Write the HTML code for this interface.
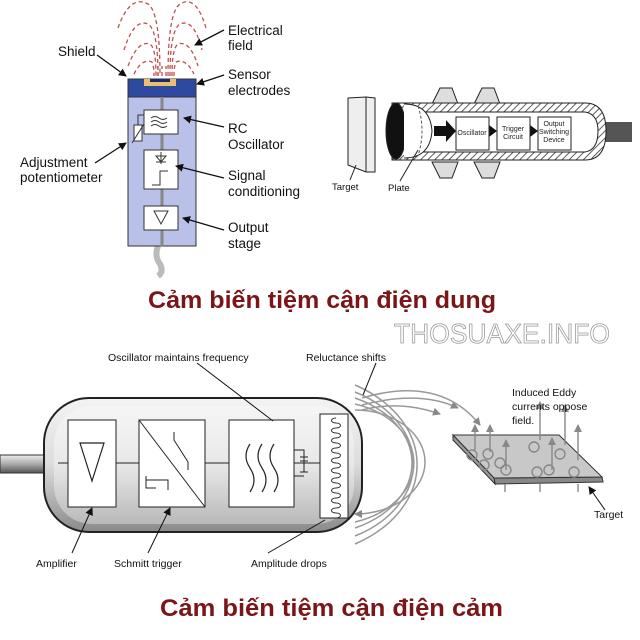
<!DOCTYPE html>
<html><head><meta charset="utf-8"><style>
html,body{margin:0;padding:0;background:#fff;}
svg{display:block;}
text{font-family:"Liberation Sans",sans-serif;}
</style></head><body>
<svg width="640" height="640" viewBox="0 0 640 640" xmlns="http://www.w3.org/2000/svg">
<defs>
<linearGradient id="bodyg" x1="0" y1="0" x2="0" y2="1">
<stop offset="0" stop-color="#f4f4f4"/><stop offset="0.5" stop-color="#dcdcdc"/><stop offset="1" stop-color="#8a8a8a"/>
</linearGradient>
<linearGradient id="cab" x1="0" y1="0" x2="0" y2="1">
<stop offset="0" stop-color="#eee"/><stop offset="0.5" stop-color="#aaa"/><stop offset="1" stop-color="#555"/>
</linearGradient>
<pattern id="hatch" width="5" height="5" patternUnits="userSpaceOnUse" patternTransform="rotate(45)">
<rect width="5" height="5" fill="#fff"/><line x1="0" y1="0" x2="0" y2="5" stroke="#333" stroke-width="1.6"/>
</pattern>
<marker id="ar" markerWidth="8" markerHeight="8" refX="7" refY="4" orient="auto" markerUnits="userSpaceOnUse"><path d="M0,0 L8,4 L0,8 z" fill="#111"/></marker>
<marker id="ag" markerWidth="8" markerHeight="8" refX="7" refY="4" orient="auto" markerUnits="userSpaceOnUse"><path d="M0,0 L8,4 L0,8 z" fill="#888"/></marker>
</defs>

<!-- ===== Top-left capacitive sensor ===== -->
<g fill="none" stroke="#c0504d" stroke-width="1.3" stroke-dasharray="4,3">
<path d="M118,28 Q130,-6 148,4 Q160,12 160,76"/>
<path d="M168,76 Q168,12 180,4 Q196,-6 206,28"/>
<path d="M124,50 Q134,18 148,24 Q158,30 158,76"/>
<path d="M170,76 Q170,30 180,24 Q194,18 202,50"/>
<path d="M128,66 Q138,40 150,44 Q156,48 156,76"/>
<path d="M172,76 Q172,48 178,44 Q190,40 198,66"/>
<path d="M134,74 Q142,58 152,62 Q154,66 154,76"/>
<path d="M174,76 Q174,66 176,62 Q186,58 194,74"/>
<path d="M158,76 v-10 M162,76 v-10 M166,76 v-10"/>
</g>
<path d="M158,246 q-4,10 2,18 q4,8 -2,12" stroke="#bbb" stroke-width="6" fill="none"/>
<rect x="128" y="97" width="68" height="149" fill="#b9c1e9" stroke="#333" stroke-width="1"/>
<rect x="128" y="79" width="68" height="18" fill="#2e4aa0" stroke="#333" stroke-width="1"/>
<rect x="144" y="79" width="32" height="7" fill="#e8c070"/>
<rect x="150" y="79" width="20" height="3" fill="#1b2a70"/>
<line x1="162" y1="97" x2="162" y2="246" stroke="#888" stroke-width="3"/>
<rect x="144" y="110" width="34" height="24" fill="#fff" stroke="#333"/>
<path d="M151,118 q4,-3 8,0 t8,0 M151,122 q4,-3 8,0 t8,0 M151,126 q4,-3 8,0 t8,0" stroke="#333" fill="none"/>
<rect x="144" y="150" width="34" height="39" fill="#fff" stroke="#333"/>
<path d="M161,152 v12 M156,156 h10 l-5,6 z M156,162 h10 M152,185 h8 v-14 h8" stroke="#333" fill="none"/>
<rect x="144" y="206" width="34" height="24" fill="#fff" stroke="#333"/>
<path d="M154,211 h14 l-7,13 z" stroke="#333" fill="none"/>
<path d="M144,115 h-6 v10" stroke="#333" fill="none"/>
<rect x="134" y="125" width="8" height="16" fill="#fff" stroke="#333"/>
<line x1="132" y1="143" x2="144" y2="124" stroke="#333"/>
<g stroke="#111" stroke-width="1.3" fill="none">
<line x1="97" y1="55" x2="126" y2="76" marker-end="url(#ar)"/>
<line x1="224" y1="30" x2="195" y2="45" marker-end="url(#ar)"/>
<line x1="224" y1="75" x2="197" y2="84" marker-end="url(#ar)"/>
<line x1="224" y1="127" x2="184" y2="118" marker-end="url(#ar)"/>
<line x1="95" y1="163" x2="126" y2="143" marker-end="url(#ar)"/>
<line x1="224" y1="178" x2="176" y2="166" marker-end="url(#ar)"/>
<line x1="224" y1="230" x2="183" y2="218" marker-end="url(#ar)"/>
</g>
<g font-size="13.5" fill="#111">
<text x="228" y="35">Electrical</text><text x="228" y="50">field</text>
<text x="58" y="56">Shield</text>
<text x="228" y="79">Sensor</text><text x="228" y="95">electrodes</text>
<text x="228" y="133">RC</text><text x="228" y="149">Oscillator</text>
<text x="20" y="167">Adjustment</text><text x="20" y="182">potentiometer</text>
<text x="228" y="180">Signal</text><text x="228" y="196">conditioning</text>
<text x="228" y="232">Output</text><text x="228" y="248">stage</text>
</g>

<!-- ===== Top-right sensor ===== -->
<path d="M348,98 L366,97 L375,98 L375,172 L366,172 L348,165 z" fill="#eee" stroke="#222"/>
<line x1="366" y1="97" x2="366" y2="172" stroke="#222"/>
<rect x="600" y="122" width="32" height="20" fill="#555"/>
<path d="M432,104 L440,88 L452,88 L458,104 z M474,104 L482,88 L494,88 L500,104 z" fill="#ddd" stroke="#222"/>
<path d="M432,162 L440,178 L452,178 L458,162 z M474,162 L482,178 L494,178 L500,162 z" fill="#ddd" stroke="#222"/>
<path d="M392,103 L585,103 Q606,103 606,131 Q606,160 585,160 L392,160 z" fill="url(#hatch)" stroke="#222"/>
<path d="M418,112 L585,112 Q598,114 598,131 Q598,150 585,152 L418,152 z" fill="#fff" stroke="#222"/>
<ellipse cx="396" cy="131" rx="10" ry="28" fill="#111" stroke="#222"/>
<path d="M404,104 Q430,104 432,131 Q430,158 404,158" fill="#fff" stroke="#222"/>
<path d="M418,106 Q426,130 418,156" stroke="#555" stroke-dasharray="3,2" fill="none"/>
<path d="M434,126 h12 v-6 l10,11 l-10,11 v-6 h-12 z" fill="#111"/>
<path d="M489,125 l8,6 l-8,6 z M530,125 l8,6 l-8,6 z" fill="#111"/>
<rect x="456" y="117" width="33" height="33" fill="#fff" stroke="#222"/>
<rect x="497" y="117" width="33" height="33" fill="#fff" stroke="#222"/>
<rect x="538" y="117" width="33" height="33" fill="#fff" stroke="#222"/>
<g font-size="7" fill="#222" text-anchor="middle">
<text x="472" y="135">Oscillator</text>
<text x="513" y="131">Trigger</text><text x="513" y="139">Circuit</text>
<text x="554" y="126">Output</text><text x="554" y="134">Switching</text><text x="554" y="142">Device</text>
</g>
<line x1="350" y1="180" x2="356" y2="165" stroke="#222"/>
<line x1="400" y1="181" x2="418" y2="150" stroke="#222"/>
<text x="332" y="190" font-size="9.5" fill="#111">Target</text>
<text x="388" y="191" font-size="9.5" fill="#111">Plate</text>

<!-- Title 1 -->
<text x="148" y="308" font-size="21" font-weight="bold" fill="#7a1518" textLength="348" lengthAdjust="spacingAndGlyphs" style="font-size:24px">Cảm biến tiệm cận điện dung</text>
<text x="394" y="343" font-family="Liberation Serif,serif" font-size="28" fill="#fff" stroke="#999" stroke-width="0.8" textLength="216" lengthAdjust="spacingAndGlyphs">THOSUAXE.INFO</text>

<!-- ===== Bottom inductive sensor ===== -->
<rect x="0" y="455" width="48" height="18" fill="url(#cab)" stroke="#333"/>
<g fill="none" stroke="#999" stroke-width="1.5">
<path d="M355,410 A70,52 0 0 1 355,514" marker-end="url(#ag)"/>
<path d="M355,404 A85,62 0 0 1 355,522"/>
<path d="M355,398 A100,72 0 0 1 355,528"/>
<path d="M355,392 A112,82 0 0 1 355,536"/>
<path d="M355,385 A125,92 0 0 1 355,544"/>
<path d="M362,410 Q400,400 440,414" marker-end="url(#ag)"/>
<path d="M362,405 Q420,390 458,408" marker-end="url(#ag)"/>
<path d="M362,398 Q440,375 480,425" marker-end="url(#ag)"/>
</g>
<rect x="44" y="398" width="318" height="134" rx="45" fill="url(#bodyg)" stroke="#222" stroke-width="2"/>
<rect x="54" y="406" width="300" height="118" rx="38" fill="#fff" opacity="0.35"/>
<line x1="58" y1="463" x2="320" y2="463" stroke="#222"/>
<rect x="68" y="420" width="48" height="87" fill="#fff" stroke="#222"/>
<path d="M80,443 h24 l-12,38 z" fill="#fff" stroke="#222" stroke-width="1.2"/>
<rect x="139" y="420" width="66" height="87" fill="#fff" stroke="#222"/>
<path d="M139,420 L205,507 M174,432 v8 l14,22 v8 M146,476 v12 h10 M146,480 h22 v10" fill="none" stroke="#222"/>
<rect x="229" y="420" width="65" height="87" fill="#fff" stroke="#222"/>
<path d="M250,444 q-8,12 0,24 t0,24 M262,444 q-8,12 0,24 t0,24 M274,444 q-8,12 0,24 t0,24" fill="none" stroke="#222" stroke-width="1.2"/>
<path d="M294,450 h10 v22 M294,476 h10 M300,457 h8 M300,461 h8 M300,472 h8" fill="none" stroke="#222"/>
<rect x="320" y="414" width="28" height="104" fill="#fff" stroke="#222"/>
<g fill="none" stroke="#333" stroke-width="1">
<path d="M336,418 c-6,0 -6,5 0,5 c6,0 6,5 0,5 c-6,0 -6,5 0,5 c6,0 6,5 0,5 c-6,0 -6,5 0,5 c6,0 6,5 0,5 c-6,0 -6,5 0,5 c6,0 6,5 0,5 c-6,0 -6,5 0,5 c6,0 6,5 0,5 c-6,0 -6,5 0,5 c6,0 6,5 0,5 c-6,0 -6,5 0,5 c6,0 6,5 0,5 c-6,0 -6,5 0,5 c6,0 6,5 0,5 c-6,0 -6,5 0,5 c6,0 6,5 0,5 c-6,0 -6,5 0,5 c6,0 6,5 0,5"/>
</g>
<!-- target -->
<path d="M494,478 L602,477 L603,482 L495,484 z" fill="#888" stroke="#333"/>
<path d="M453,435 L559,435 L602,477 L494,478 z" fill="#c8c8c8" stroke="#333"/>
<path d="M453,435 L453,440 L495,484 L494,478 z" fill="#999" stroke="#333"/>
<g fill="none" stroke="#888" stroke-width="1.4">
<line x1="475" y1="450" x2="475" y2="425" marker-end="url(#ag)"/>
<line x1="490" y1="452" x2="490" y2="425" marker-end="url(#ag)"/>
<line x1="540" y1="440" x2="540" y2="402" marker-end="url(#ag)"/>
<line x1="565" y1="445" x2="565" y2="405" marker-end="url(#ag)"/>
<line x1="578" y1="460" x2="578" y2="425" marker-end="url(#ag)"/>
<line x1="552" y1="470" x2="552" y2="438" marker-end="url(#ag)"/>
<line x1="506" y1="470" x2="506" y2="440" marker-end="url(#ag)"/>
<circle cx="472" cy="455" r="5"/><circle cx="488" cy="454" r="5"/><circle cx="500" cy="463" r="5"/>
<circle cx="506" cy="470" r="5"/><circle cx="534" cy="447" r="5"/><circle cx="560" cy="454" r="5"/>
<circle cx="537" cy="472" r="5"/><circle cx="549" cy="470" r="5"/><circle cx="574" cy="472" r="5"/><circle cx="484" cy="465" r="5"/>
<line x1="505" y1="484" x2="505" y2="492"/><line x1="540" y1="484" x2="540" y2="492"/><line x1="578" y1="484" x2="578" y2="492"/>
</g>
<g stroke="#111" stroke-width="1" fill="none">
<line x1="197" y1="363" x2="273" y2="421"/>
<line x1="376" y1="363" x2="363" y2="395"/>
<line x1="72" y1="553" x2="92" y2="508" marker-end="url(#ar)"/>
<line x1="148" y1="553" x2="170" y2="508" marker-end="url(#ar)"/>
<line x1="268" y1="553" x2="325" y2="520"/>
<line x1="605" y1="510" x2="589" y2="487" marker-end="url(#ar)"/>
</g>
<g font-size="10.5" fill="#111">
<text x="108" y="361">Oscillator maintains frequency</text>
<text x="306" y="361">Reluctance shifts</text>
<text x="512" y="396">Induced Eddy</text>
<text x="512" y="410">currents oppose</text>
<text x="512" y="424">field.</text>
<text x="594" y="518">Target</text>
<text x="36" y="567">Amplifier</text>
<text x="114" y="567">Schmitt trigger</text>
<text x="251" y="567">Amplitude drops</text>
</g>

<!-- Title 2 -->
<text x="160" y="616" font-weight="bold" fill="#7a1518" textLength="343" lengthAdjust="spacingAndGlyphs" style="font-size:24px">Cảm biến tiệm cận điện cảm</text>
</svg>
</body></html>
